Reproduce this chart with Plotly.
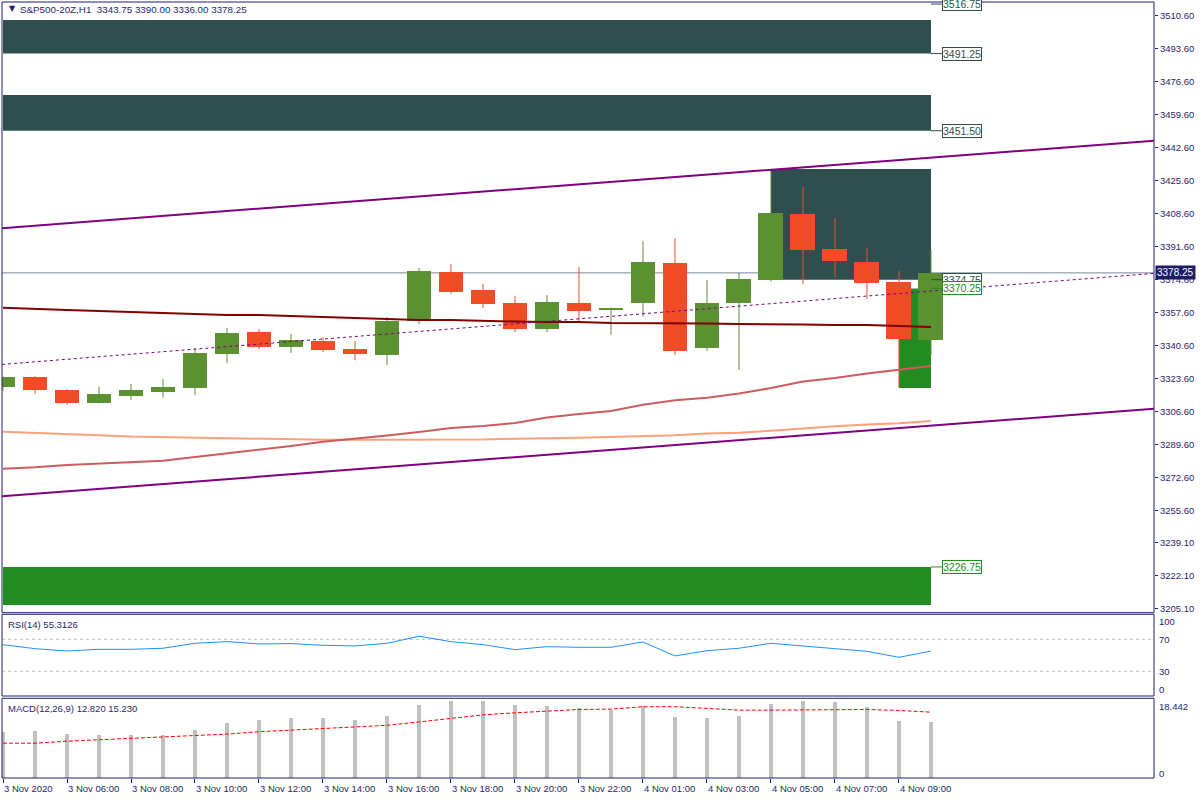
import plotly.graph_objects as go

# ---------------- data ----------------
bar_index = list(range(30))
bar_times = ["3 Nov 04:00", "3 Nov 05:00", "3 Nov 06:00", "3 Nov 07:00", "3 Nov 08:00",
             "3 Nov 09:00", "3 Nov 10:00", "3 Nov 11:00", "3 Nov 12:00", "3 Nov 13:00",
             "3 Nov 14:00", "3 Nov 15:00", "3 Nov 16:00", "3 Nov 17:00", "3 Nov 18:00",
             "3 Nov 19:00", "3 Nov 20:00", "3 Nov 21:00", "3 Nov 22:00", "4 Nov 00:00",
             "4 Nov 01:00", "4 Nov 02:00", "4 Nov 03:00", "4 Nov 04:00", "4 Nov 05:00",
             "4 Nov 06:00", "4 Nov 07:00", "4 Nov 08:00", "4 Nov 09:00", "4 Nov 10:00"]

opens = [3319.6, 3324.6, 3317.9, 3311.2, 3314.8, 3316.9, 3319.1, 3336.5, 3347.8, 3340.1,
         3343.2, 3339.0, 3335.9, 3353.5, 3378.7, 3369.4, 3362.7, 3349.3, 3362.7, 3359.2,
         3362.7, 3383.4, 3339.5, 3362.7, 3374.6, 3408.6, 3390.5, 3383.9, 3373.5, 3343.75]
highs = [3325.0, 3325.0, 3318.4, 3319.6, 3321.0, 3323.6, 3339.4, 3349.9, 3349.3, 3346.8,
         3345.2, 3343.2, 3355.5, 3380.8, 3382.8, 3372.5, 3366.3, 3366.8, 3381.3, 3360.4,
         3394.7, 3396.2, 3374.6, 3378.2, 3431.8, 3422.5, 3406.5, 3391.0, 3379.2, 3390.0]
lows = [3317.6, 3315.9, 3310.3, 3311.0, 3312.8, 3314.0, 3315.3, 3331.8, 3339.0, 3337.0,
        3337.5, 3333.4, 3330.8, 3351.9, 3367.4, 3360.2, 3347.8, 3347.8, 3353.0, 3346.3,
        3355.7, 3335.9, 3338.0, 3328.2, 3373.7, 3372.5, 3376.1, 3364.8, 3319.0, 3336.0]
closes = [3324.6, 3317.9, 3311.2, 3315.9, 3317.9, 3319.4, 3337.0, 3347.3, 3340.1, 3343.7,
          3338.5, 3336.5, 3353.5, 3379.2, 3368.4, 3362.2, 3349.3, 3363.2, 3358.6, 3360.4,
          3383.9, 3338.0, 3362.7, 3375.1, 3409.1, 3390.0, 3384.4, 3373.0, 3344.2, 3378.25]

ma_maroon = [3360.3, 3359.6, 3359.1, 3358.6, 3358.1, 3357.5, 3357.0, 3356.5, 3356.5, 3356.0,
             3355.5, 3355.0, 3354.5, 3354.0, 3354.0, 3353.5, 3353.2, 3352.9, 3352.9, 3352.4,
             3352.4, 3352.4, 3352.2, 3351.9, 3351.9, 3351.7, 3351.4, 3351.4, 3350.9, 3350.4]
ma_indianred = [3277.4, 3278.1, 3279.3, 3280.1, 3280.8, 3281.5, 3283.4, 3285.2, 3287.0, 3289.1,
                3291.3, 3292.8, 3294.5, 3296.3, 3298.3, 3299.4, 3300.9, 3303.7, 3305.6, 3307.1,
                3310.3, 3312.6, 3313.9, 3316.1, 3318.9, 3322.3, 3324.1, 3326.4, 3328.2, 3330.3]
ma_salmon = [3296.4, 3295.9, 3295.2, 3294.6, 3293.9, 3293.6, 3293.3, 3293.1, 3292.8, 3292.6,
             3292.3, 3292.3, 3292.3, 3292.3, 3292.3, 3292.4, 3292.8, 3292.9, 3293.3, 3293.7,
             3294.1, 3294.6, 3295.5, 3295.9, 3296.9, 3298.2, 3299.2, 3300.2, 3300.8, 3301.9]

rsi = [63.3, 58.3, 55.4, 57.5, 57.5, 58.8, 65.0, 67.1, 64.2, 64.6,
       62.5, 61.7, 65.0, 73.8, 67.1, 63.3, 57.1, 60.8, 60.0, 60.0,
       66.7, 49.2, 55.8, 58.8, 65.0, 61.25, 58.3, 55.0, 47.5, 55.3126]
macd_main = [10.55, 10.78, 10.00, 9.77, 9.77, 9.77, 11.02, 12.58, 13.36, 13.75,
             13.75, 13.36, 14.22, 16.80, 17.74, 17.74, 16.80, 16.57, 16.10, 15.71,
             16.64, 13.99, 13.75, 14.22, 17.11, 17.82, 17.50, 16.33, 13.05, 12.82]
macd_signal = [8.05, 8.05, 8.52, 8.83, 9.22, 9.53, 9.92, 10.16, 10.71, 11.10,
               11.33, 11.72, 12.19, 12.97, 13.83, 14.61, 15.08, 15.47, 15.86, 15.94,
               16.49, 16.49, 16.02, 15.71, 15.71, 15.78, 15.78, 15.86, 15.63, 15.23]

# channel / trendline end points (bar index, price)
line_x = [-0.03125, 35.97]
channel_upper = [3401.3, 3446.35]
channel_lower = [3263.2, 3308.3]
trend_mid = [3331.1, 3378.0]

# zones (rectangles)
zone_x0 = [0, 0, 0, 24, 28]
zone_x1 = [29, 29, 29, 29, 29]
zone_low = [3491.25, 3451.50, 3207.2, 3374.75, 3319.0]
zone_high = [3508.5, 3469.9, 3226.75, 3431.8, 3370.25]
zone_color = ["#2F4F4F", "#2F4F4F", "#228B22", "#2F4F4F", "#228B22"]

# zone price labels
label_price = [3516.75, 3491.25, 3451.50, 3374.75, 3370.25, 3226.75]
label_text = ["3516.75", "3491.25", "3451.50", "3374.75", "3370.25", "3226.75"]
label_color = ["#2F4F4F", "#2F4F4F", "#2F4F4F", "#2F4F4F", "#228B22", "#228B22"]

last_price = 3378.25

price_ticks = [3510.60, 3493.60, 3476.60, 3459.60, 3442.60, 3425.60, 3408.60, 3391.60,
               3374.60, 3357.60, 3340.60, 3323.60, 3306.60, 3289.60, 3272.60, 3255.60,
               3239.10, 3222.10, 3205.10]
x_tick_idx = [0, 2, 4, 6, 8, 10, 12, 14, 16, 18, 20, 22, 24, 26, 28]
x_tick_text = ["3 Nov 2020", "3 Nov 06:00", "3 Nov 08:00", "3 Nov 10:00", "3 Nov 12:00",
               "3 Nov 14:00", "3 Nov 16:00", "3 Nov 18:00", "3 Nov 20:00", "3 Nov 22:00",
               "4 Nov 01:00", "4 Nov 03:00", "4 Nov 05:00", "4 Nov 07:00", "4 Nov 09:00"]

# ---------------- style ----------------
UP = "#5B9131"
DOWN = "#F24C27"
NAVY = "#1F1F6B"
FONT = "Liberation Sans, Arial, sans-serif"

fig = go.Figure()

up = [i for i in bar_index if closes[i] >= opens[i]]
dn = [i for i in bar_index if closes[i] < opens[i]]

for sel, col in ((up, UP), (dn, DOWN)):
    fig.add_trace(go.Bar(
        x=[bar_index[i] for i in sel],
        y=[max(abs(closes[i] - opens[i]), 0.6) for i in sel],
        base=[min(opens[i], closes[i]) for i in sel],
        width=0.78, marker=dict(color=col, line=dict(width=0)),
        xaxis="x", yaxis="y", showlegend=False, hoverinfo="skip"))

fig.add_trace(go.Bar(x=bar_index, y=macd_main, width=0.1,
                     marker=dict(color="#C0C0C0", line=dict(width=0)),
                     xaxis="x", yaxis="y3", showlegend=False))

for sel, col in ((up, UP), (dn, DOWN)):
    wx, wy = [], []
    for i in sel:
        wx += [bar_index[i], bar_index[i], None]
        wy += [lows[i], highs[i], None]
    fig.add_trace(go.Scatter(x=wx, y=wy, mode="lines", line=dict(color=col, width=1),
                             xaxis="x", yaxis="y", showlegend=False, hoverinfo="skip"))

fig.add_trace(go.Scatter(x=bar_index, y=ma_salmon, mode="lines",
                         line=dict(color="#FFA07A", width=2), showlegend=False))
fig.add_trace(go.Scatter(x=bar_index, y=ma_indianred, mode="lines",
                         line=dict(color="#CD5C5C", width=2), showlegend=False))
fig.add_trace(go.Scatter(x=bar_index, y=ma_maroon, mode="lines",
                         line=dict(color="#800000", width=2), showlegend=False))
fig.add_trace(go.Scatter(x=line_x, y=channel_upper, mode="lines",
                         line=dict(color="#800080", width=2), showlegend=False))
fig.add_trace(go.Scatter(x=line_x, y=channel_lower, mode="lines",
                         line=dict(color="#800080", width=2), showlegend=False))
fig.add_trace(go.Scatter(x=line_x, y=trend_mid, mode="lines",
                         line=dict(color="#800080", width=1, dash="3px,3px"), showlegend=False))

fig.add_trace(go.Scatter(x=bar_index, y=rsi, mode="lines", line=dict(color="#1E90FF", width=1),
                         xaxis="x", yaxis="y2", showlegend=False))
fig.add_trace(go.Scatter(x=bar_index, y=macd_signal, mode="lines",
                         line=dict(color="#FF0000", width=1, dash="4px,2px"),
                         xaxis="x", yaxis="y3", showlegend=False))

shapes = []
for x0, x1, lo, hi, c in zip(zone_x0, zone_x1, zone_low, zone_high, zone_color):
    shapes.append(dict(type="rect", xref="x", yref="y", x0=x0, x1=x1, y0=lo, y1=hi,
                       fillcolor=c, line=dict(width=0), layer="below"))
shapes.append(dict(type="line", xref="paper", yref="y", x0=0, x1=1, y0=last_price, y1=last_price,
                   line=dict(color="#778899", width=1), layer="below"))
for p, c in zip(label_price, label_color):
    shapes.append(dict(type="line", xref="x", yref="y", x0=29, x1=29.34, y0=p, y1=p,
                       line=dict(color=c, width=1)))
for lvl in (70, 30):
    shapes.append(dict(type="line", xref="paper", yref="y2", x0=0, x1=1, y0=lvl, y1=lvl,
                       line=dict(color="#C0C0C0", width=1, dash="3px,3px"), layer="below"))

# panel borders (paper, derived from domains)
H = 776.0
main_dom = [(778 - 612.7) / H, 1.0]
rsi_dom = [(778 - 696) / H, (778 - 614.3) / H]
macd_dom = [0.0, (778 - 698.3) / H]
for d in (main_dom, rsi_dom, macd_dom):
    shapes.append(dict(type="rect", xref="paper", yref="paper", x0=0, x1=1, y0=d[0], y1=d[1],
                       line=dict(color=NAVY, width=1), fillcolor="rgba(0,0,0,0)"))

ann = []
for p, t, c in zip(label_price, label_text, label_color):
    ann.append(dict(x=29.34, y=p, xref="x", yref="y", text=t, showarrow=False,
                    xanchor="left", yanchor="middle", bgcolor="white", bordercolor=c,
                    borderwidth=1, borderpad=0, font=dict(family=FONT, size=10.5, color=c)))
ann.append(dict(x=1, y=last_price, xref="paper", yref="y", text=f"{last_price:.2f}",
                showarrow=False, xanchor="left", yanchor="middle", xshift=1,
                bgcolor="#1B1B66", borderpad=1, font=dict(family=FONT, size=10, color="white")))
for t, yy in (("100", 621), ("70", 639), ("30", 671), ("0", 689), ("18.442", 706), ("0", 773)):
    ann.append(dict(x=1, y=(778 - yy) / H, xref="paper", yref="paper", text=t, showarrow=False,
                    xanchor="left", yanchor="middle", xshift=3,
                    font=dict(family=FONT, size=9.5, color=NAVY)))
for xi, t in zip(x_tick_idx, x_tick_text):
    ann.append(dict(x=xi, y=(778 - 788) / H, xref="x", yref="paper", text=t, showarrow=False,
                    xanchor="left", yanchor="middle", xshift=-1,
                    font=dict(family=FONT, size=9.5, color=NAVY)))
ann.append(dict(x=0, y=(778 - 9) / H, xref="paper", yref="paper", text="▼", showarrow=False,
                xanchor="left", yanchor="middle", xshift=5,
                font=dict(family="DejaVu Sans", size=8, color=NAVY)))
ann.append(dict(x=0, y=(778 - 10) / H, xref="paper", yref="paper",
                text=f"S&amp;P500-20Z,H1  {opens[-1]:.2f} {highs[-1]:.2f} {lows[-1]:.2f} {closes[-1]:.2f}",
                showarrow=False, xanchor="left", yanchor="middle", xshift=16,
                font=dict(family=FONT, size=9.8, color=NAVY)))
ann.append(dict(x=0, y=(778 - 624) / H, xref="paper", yref="paper",
                text=f"RSI(14) {rsi[-1]:.4f}", showarrow=False, xanchor="left", yanchor="middle",
                xshift=4, font=dict(family=FONT, size=9.5, color=NAVY)))
ann.append(dict(x=0, y=(778 - 708) / H, xref="paper", yref="paper",
                text=f"MACD(12,26,9) {macd_main[-1]:.3f} {macd_signal[-1]:.3f}", showarrow=False,
                xanchor="left", yanchor="middle", xshift=4,
                font=dict(family=FONT, size=9.5, color=NAVY)))

fig.update_layout(
    width=1200, height=800,
    margin=dict(l=2, r=46, t=2, b=22, autoexpand=False),
    paper_bgcolor="white", plot_bgcolor="white",
    barmode="overlay", bargap=0, showlegend=False,
    font=dict(family=FONT, size=9.5, color=NAVY),
    shapes=shapes, annotations=ann,
    xaxis=dict(domain=[0, 1], anchor="y3", range=[-0.03125, 35.97], showgrid=False,
               zeroline=False, showticklabels=False, ticks="outside", ticklen=4,
               tickcolor=NAVY, tickvals=x_tick_idx, showline=False, automargin=False),
    yaxis=dict(domain=main_dom, anchor="x", side="right", range=[3203.18, 3517.81],
               showgrid=False, zeroline=False, tickvals=price_ticks,
               ticktext=[f"{v:.2f}" for v in price_ticks], ticks="outside", ticklen=3,
               tickcolor=NAVY, tickfont=dict(family=FONT, size=9.5, color=NAVY),
               automargin=False),
    yaxis2=dict(domain=rsi_dom, anchor="x", side="right", range=[-0.875, 101.25],
                showgrid=False, zeroline=False, showticklabels=False, automargin=False),
    yaxis3=dict(domain=macd_dom, anchor="x", side="right", range=[0, 18.442],
                showgrid=False, zeroline=False, showticklabels=False, automargin=False),
)

fig.write_html("out.html", config={"displayModeBar": False},
               post_script="document.body.style.margin='0px';document.body.style.padding='0px';")
